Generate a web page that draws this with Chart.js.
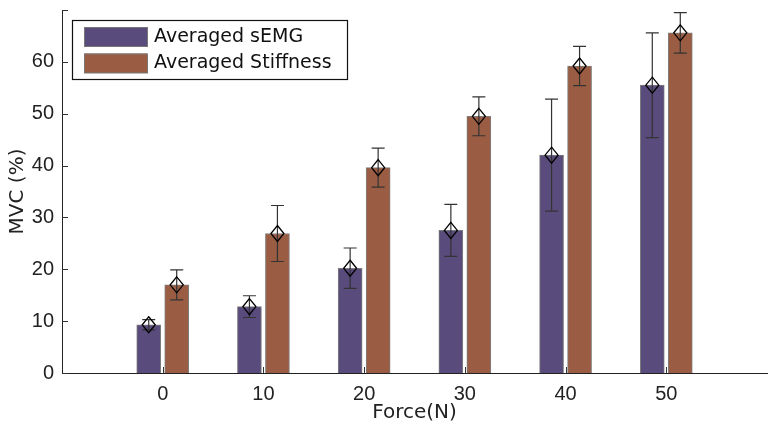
<!DOCTYPE html>
<html>
<head>
<meta charset="utf-8">
<script src="https://cdn.jsdelivr.net/npm/chart.js@4/dist/chart.umd.min.js"></script>
<style>
  html, body { margin: 0; padding: 0; background: #fff; }
  #wrap { width: 770px; height: 427px; }
</style>
</head>
<body>
<div id="wrap"><canvas id="mvc_chart" width="770" height="427"></canvas></div>
<script>
// values (MVC %)
const forces = [0, 10, 20, 30, 40, 50];
const semgMean = [9.3, 12.8, 20.2, 27.5, 42.0, 55.5];
const semgErr = [1.0, 2.1, 3.9, 5.0, 10.8, 10.1];
const stiffMean = [17.0, 26.9, 39.6, 49.5, 59.2, 65.6];
const stiffErr = [2.9, 5.4, 3.75, 3.75, 3.8, 3.9];
const seriesNames = ["Averaged sEMG", "Averaged Stiffness"];
const yTicks = [0, 10, 20, 30, 40, 50, 60, 70];

const colors = ["#594c7c", "#9a5c43"];
const tickFont = { family: "Liberation Sans", size: 20 };
const titleFont = { family: "DejaVu Sans", size: 20 };
const legendFont = "19px 'DejaVu Sans'";

function points(xs, ys) {
  return xs.map(function (x, i) { return { x: x, y: ys[i] }; });
}

// error bars + open diamonds on top of each bar
const errorBars = {
  id: "errorBars",
  afterDatasetsDraw: function (chart) {
    const ctx = chart.ctx;
    const y = chart.scales.y;
    ctx.save();
    chart.data.datasets.forEach(function (ds, i) {
      const meta = chart.getDatasetMeta(i);
      meta.data.forEach(function (bar, j) {
        const v = ds.data[j].y, e = ds.errors[j];
        const top = y.getPixelForValue(v + e), bot = y.getPixelForValue(v - e);
        ctx.strokeStyle = "#333";
        ctx.lineWidth = 1.2;
        ctx.beginPath();
        ctx.moveTo(bar.x, top); ctx.lineTo(bar.x, bot);
        ctx.moveTo(bar.x - 6.5, top); ctx.lineTo(bar.x + 6.5, top);
        ctx.moveTo(bar.x - 6.5, bot); ctx.lineTo(bar.x + 6.5, bot);
        ctx.stroke();
        ctx.strokeStyle = "#000";
        ctx.lineWidth = 1.3;
        ctx.beginPath();
        ctx.moveTo(bar.x, bar.y - 8);
        ctx.lineTo(bar.x + 6.5, bar.y);
        ctx.lineTo(bar.x, bar.y + 8);
        ctx.lineTo(bar.x - 6.5, bar.y);
        ctx.closePath();
        ctx.stroke();
      });
    });
    ctx.restore();
  }
};

// short inward tick marks on both axes
const innerTicks = {
  id: "innerTicks",
  afterDraw: function (chart) {
    const ctx = chart.ctx;
    const a = chart.chartArea;
    ctx.save();
    ctx.strokeStyle = "#333";
    ctx.lineWidth = 1;
    ctx.beginPath();
    yTicks.forEach(function (t) {
      const py = Math.round(chart.scales.y.getPixelForValue(t)) + 0.5;
      ctx.moveTo(a.left, py); ctx.lineTo(a.left + 6, py);
    });
    forces.forEach(function (f) {
      const px = Math.round(chart.scales.x.getPixelForValue(f)) + 0.5;
      ctx.moveTo(px, a.bottom); ctx.lineTo(px, a.bottom - 6);
    });
    ctx.stroke();
    ctx.restore();
  }
};

// boxed legend inside the plot, upper left
const boxLegend = {
  id: "boxLegend",
  afterDraw: function (chart) {
    const ctx = chart.ctx;
    const a = chart.chartArea;
    const bx = a.left + 10, by = a.top + 10;
    ctx.save();
    ctx.fillStyle = "#fff";
    ctx.fillRect(bx, by, 275, 59);
    ctx.strokeStyle = "#111";
    ctx.lineWidth = 1.2;
    ctx.strokeRect(bx + 0.5, by + 0.5, 275, 59);
    ctx.font = legendFont;
    ctx.textBaseline = "middle";
    chart.data.datasets.forEach(function (ds, i) {
      const ry = by + 7 + i * 26.5;
      ctx.fillStyle = ds.backgroundColor;
      ctx.fillRect(bx + 12, ry, 63, 19.5);
      ctx.strokeStyle = "#777";
      ctx.lineWidth = 1;
      ctx.strokeRect(bx + 12.5, ry + 0.5, 63, 19);
      ctx.fillStyle = "#111";
      ctx.fillText(ds.label, bx + 82, ry + 10);
    });
    ctx.restore();
  }
};

const ctx = document.getElementById("mvc_chart").getContext("2d");
const mvcChart = new Chart(ctx, {
  type: "bar",
  data: {
    datasets: [
      {
        label: seriesNames[0],
        data: points(forces, semgMean),
        errors: semgErr,
        backgroundColor: colors[0],
        borderColor: "#7d7d7d",
        borderWidth: 1,
      },
      {
        label: seriesNames[1],
        data: points(forces, stiffMean),
        errors: stiffErr,
        backgroundColor: colors[1],
        borderColor: "#7d7d7d",
        borderWidth: 1,
      },
    ],
  },
  options: {
    responsive: false,
    animation: false,
    barThickness: 28,
    maxBarThickness: 24,
    layout: { padding: { top: 10, right: 3, left: 0, bottom: 0 } },
    plugins: {
      legend: { display: false },
      tooltip: { enabled: false },
    },
    scales: {
      x: {
        type: "linear",
        min: -10,
        max: 60,
        offset: false,
        afterFit: function (s) { s.height = 54; s.paddingRight = 0; s.paddingLeft = 0; },
        grid: { display: false, drawTicks: false },
        border: { display: true, color: "#222", width: 1 },
        ticks: {
          stepSize: 10,
          padding: 9,
          color: "#222",
          font: tickFont,
          callback: function (v) { return forces.indexOf(v) >= 0 ? String(v) : ""; },
        },
        title: { display: true, text: "Force(N)", color: "#222", font: titleFont, padding: { top: 0, bottom: 2 } },
      },
      y: {
        min: 0,
        max: 70,
        afterFit: function (s) { s.width = 62; s.paddingTop = 0; s.paddingBottom = 0; },
        grid: { display: false, drawTicks: false },
        border: { display: true, color: "#222", width: 1 },
        ticks: {
          stepSize: 10,
          padding: 8,
          color: "#222",
          font: tickFont,
          callback: function (v) { return v === 70 ? "" : String(v); },
        },
        title: { display: true, text: "MVC (%)", color: "#222", font: titleFont, padding: { top: 6, bottom: 0 } },
      },
    },
  },
  plugins: [errorBars, innerTicks, boxLegend],
});
</script>
</body>
</html>
